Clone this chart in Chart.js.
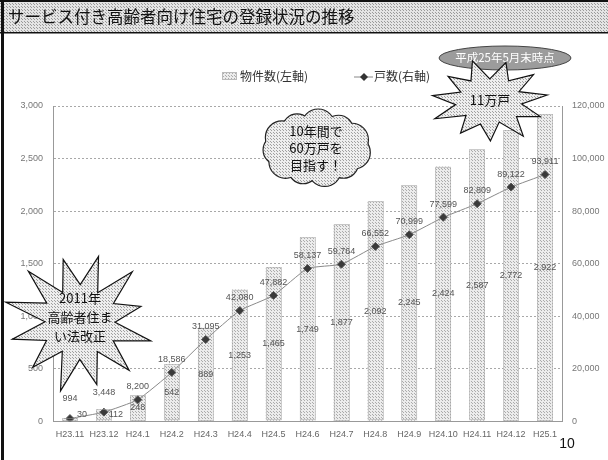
<!DOCTYPE html>
<html>
<head>
<meta charset="utf-8">
<script src="https://cdn.jsdelivr.net/npm/chart.js@4/dist/chart.umd.min.js"></script>
<style>
  html, body { margin: 0; padding: 0; background: #fff; }
  #wrap { width: 608px; height: 460px; position: relative; }
</style>
</head>
<body>
<div id="wrap"><canvas id="c" width="608" height="460"></canvas></div>
<script>
// Registration months (Heisei era, year.month)
const categories = ['H23.11', 'H23.12', 'H24.1', 'H24.2', 'H24.3', 'H24.4', 'H24.5', 'H24.6',
  'H24.7', 'H24.8', 'H24.9', 'H24.10', 'H24.11', 'H24.12', 'H25.1'];
// Registered properties (left axis)
const propertyCounts = [30, 112, 248, 542, 889, 1253, 1465, 1749, 1877, 2092, 2245, 2424, 2587, 2772, 2922];
// Registered dwelling units (right axis)
const unitCounts = [994, 3448, 8200, 18586, 31095, 42080, 47882, 58137, 59764, 66552, 70999, 77599, 82809, 89122, 93911];
// Axis ranges
const leftTicks = { min: 0, max: 3000, step: 500 };
const rightTicks = { min: 0, max: 120000, step: 20000 };

const canvas = document.getElementById('c');
const ctx = canvas.getContext('2d');
const JP = '"Noto Sans CJK JP", "Noto Sans", sans-serif';
const LAT = '"Liberation Sans", "DejaVu Sans", sans-serif';

function stipple(bg, dot, size) {
  const c = document.createElement('canvas');
  c.width = c.height = size;
  const g = c.getContext('2d');
  g.fillStyle = bg; g.fillRect(0, 0, size, size);
  g.fillStyle = dot;
  g.fillRect(0, 0, 1, 1);
  g.fillRect(Math.floor(size / 2), Math.floor(size / 2), 1, 1);
  return ctx.createPattern(c, 'repeat');
}
const barFill = stipple('#ececec', '#ababab', 3);
const bandFill = stipple('#e4e4e4', '#9a9a9a', 3);
const shapeFill = stipple('#eeeeee', '#a0a0a0', 3);

const fmt = v => Number(v).toLocaleString('en-US');

// Spiky burst outline
function burst(g, cx, cy, rx, ry, radii, rot) {
  const n = radii.length;
  g.beginPath();
  for (let i = 0; i < n; i++) {
    const a = rot + (i / n) * Math.PI * 2;
    const r = radii[i];
    const x = cx + Math.cos(a) * rx * r, y = cy + Math.sin(a) * ry * r;
    if (i === 0) g.moveTo(x, y); else g.lineTo(x, y);
  }
  g.closePath();
  g.fillStyle = shapeFill; g.fill();
  g.strokeStyle = '#111'; g.lineWidth = 1.2; g.stroke();
}

// Puffy cloud made of overlapping bumps
function cloud(g, cx, cy, rx, ry) {
  const bumps = [];
  const k = 11;
  for (let i = 0; i < k; i++) {
    const a = (i / k) * Math.PI * 2 + 0.2;
    bumps.push([cx + Math.cos(a) * rx * 0.74, cy + Math.sin(a) * ry * 0.66, (i % 2 ? 14 : 16)]);
  }
  g.lineWidth = 2.4; g.strokeStyle = '#222';
  bumps.forEach(b => { g.beginPath(); g.arc(b[0], b[1], b[2], 0, Math.PI * 2); g.stroke(); });
  g.fillStyle = shapeFill;
  bumps.forEach(b => { g.beginPath(); g.arc(b[0], b[1], b[2], 0, Math.PI * 2); g.fill(); });
  g.beginPath(); g.ellipse(cx, cy, rx * 0.78, ry * 0.72, 0, 0, Math.PI * 2); g.fill();
}

function lines(g, arr, x, y, lh) {
  arr.forEach((t, i) => g.fillText(t, x, y + i * lh));
}

const pagePlugin = {
  id: 'page',
  beforeDraw(chart) {
    const g = chart.ctx;
    g.save();
    g.fillStyle = '#fff'; g.fillRect(0, 0, chart.width, chart.height);
    // title band
    g.fillStyle = bandFill; g.fillRect(0, 0, chart.width, 33);
    g.fillStyle = '#111';
    g.fillRect(0, 0, chart.width, 2);
    g.fillRect(0, 32, chart.width, 1.5);
    g.fillRect(1, 0, 3, chart.height);
    g.font = '16.5px ' + JP;
    g.textBaseline = 'middle'; g.textAlign = 'left';
    g.fillText('サービス付き高齢者向け住宅の登録状況の推移', 8, 17);
    // legend
    const ly = 76;
    g.fillStyle = barFill; g.fillRect(222, ly - 4, 15, 8);
    g.strokeStyle = '#bbb'; g.lineWidth = 1; g.strokeRect(222.5, ly - 3.5, 14, 7);
    g.fillStyle = '#333'; g.font = '12px ' + JP;
    g.fillText('物件数(左軸)', 240, ly);
    g.strokeStyle = '#888'; g.beginPath(); g.moveTo(354, ly + 1); g.lineTo(373, ly + 1); g.stroke();
    g.fillStyle = '#333';
    g.beginPath(); g.moveTo(364, ly - 3); g.lineTo(368, ly + 1); g.lineTo(364, ly + 5); g.lineTo(360, ly + 1); g.closePath(); g.fill();
    g.fillText('戸数(右軸)', 374, ly);
    g.restore();
  },
  afterDatasetsDraw(chart) {
    const g = chart.ctx;
    g.save();
    // dotted bar outlines
    const bars = chart.getDatasetMeta(0).data;
    g.setLineDash([1, 1]); g.strokeStyle = '#a0a0a0'; g.lineWidth = 1;
    bars.forEach(b => {
      const w = b.width;
      g.strokeRect(Math.round(b.x - w / 2) + 0.5, Math.round(b.y) + 0.5, Math.round(w) - 1, Math.round(b.base - b.y) - 1);
    });
    g.setLineDash([]);
    // value labels
    g.font = '9px ' + LAT; g.fillStyle = '#555';
    g.textAlign = 'center'; g.textBaseline = 'middle';
    bars.forEach((b, i) => {
      const yy = Math.min((b.y + b.base) / 2, b.base - 6);
      const xx = propertyCounts[i] < 200 ? b.x + 12 : b.x;
      g.fillText(fmt(propertyCounts[i]), xx, yy);
    });
    const pts = chart.getDatasetMeta(1).data;
    pts.forEach((p, i) => {
      g.fillText(fmt(unitCounts[i]), p.x, p.y - (i < 2 ? 20 : 13));
    });
    g.restore();
  },
  afterDraw(chart) {
    const g = chart.ctx;
    g.save();
    g.textAlign = 'center'; g.textBaseline = 'middle';
    // date badge
    g.beginPath(); g.ellipse(505, 58, 66, 12, 0, 0, Math.PI * 2);
    g.fillStyle = '#9c9c9c'; g.fill();
    g.strokeStyle = '#444'; g.lineWidth = 1; g.stroke();
    g.fillStyle = '#fff'; g.font = '11.5px ' + JP;
    g.fillText('平成25年5月末時点', 505, 58);
    // 11万戸 burst
    burst(g, 490, 101, 58, 40,
      [1, 0.55, 0.95, 0.6, 1.05, 0.55, 1, 0.6, 0.95, 0.55, 1.05, 0.6, 1, 0.55, 0.95, 0.6, 1.05, 0.55, 1, 0.6, 1, 0.55], -0.15);
    g.fillStyle = '#111'; g.font = '13px ' + JP;
    g.fillText('11万戸', 490, 100);
    // cloud
    cloud(g, 316, 148, 52, 34);
    g.fillStyle = '#111'; g.font = '13px ' + JP;
    lines(g, ['10年間で', '60万戸を', '目指す！'], 316, 131, 17);
    // 2011 burst
    burst(g, 80, 322, 70, 68,
      [1.05, 0.5, 0.95, 0.55, 1.0, 0.5, 1.05, 0.55, 0.9, 0.5, 1.05, 0.55, 1.0, 0.5, 0.95, 0.55, 1.05, 0.5, 0.95, 0.55, 1.0, 0.5, 1.1, 0.55], -2.35);
    g.fillStyle = '#111'; g.font = '13px ' + JP;
    lines(g, ['2011年', '高齢者住ま', 'い法改正'], 80, 298, 19);
    // page number
    g.font = '14px ' + LAT; g.fillStyle = '#111';
    g.fillText('10', 567, 444);
    g.restore();
  }
};

const tickFont = { family: LAT, size: 9 };

new Chart(canvas, {
  data: {
    labels: categories,
    datasets: [
      {
        type: 'bar', label: '物件数(左軸)', data: propertyCounts, yAxisID: 'y',
        backgroundColor: barFill, borderWidth: 0,
        barPercentage: 0.46, categoryPercentage: 1, order: 2
      },
      {
        type: 'line', label: '戸数(右軸)', data: unitCounts, yAxisID: 'y1',
        borderColor: '#8a8a8a', borderWidth: 1, tension: 0.15,
        pointStyle: 'rectRot', pointRadius: 4, pointBackgroundColor: '#3a3a3a',
        pointBorderColor: '#555', pointBorderWidth: 1, order: 1
      }
    ]
  },
  options: {
    responsive: false, animation: false,
    layout: { padding: { left: 8, right: 0, top: 106, bottom: 20 } },
    plugins: { legend: { display: false }, tooltip: { enabled: false } },
    scales: {
      x: {
        grid: { display: false },
        border: { display: true, color: '#999', dash: [2, 2] },
        ticks: { font: tickFont, color: '#666', maxRotation: 0, autoSkip: false, padding: 0 }
      },
      y: {
        position: 'left', min: leftTicks.min, max: leftTicks.max,
        ticks: { stepSize: leftTicks.step, font: tickFont, color: '#777', padding: 10, callback: fmt },
        grid: { color: '#a8a8a8', drawTicks: false },
        border: { display: true, color: '#999', dash: [2, 2] },
        afterFit(s) { s.width = 45; }
      },
      y1: {
        position: 'right', min: rightTicks.min, max: rightTicks.max,
        ticks: { stepSize: rightTicks.step, font: tickFont, color: '#777', padding: 10, callback: fmt },
        grid: { display: false, drawTicks: false },
        border: { display: true, color: '#999', dash: [2, 2] },
        afterFit(s) { s.width = 46; }
      }
    }
  },
  plugins: [pagePlugin]
});
</script>
</body>
</html>
